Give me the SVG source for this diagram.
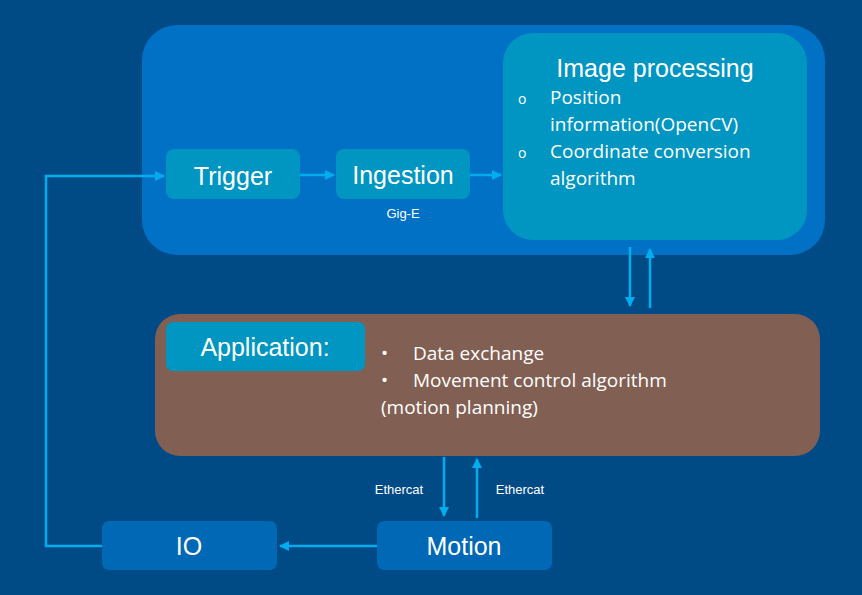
<svg xmlns="http://www.w3.org/2000/svg" width="862" height="595" viewBox="0 0 862 595">
<style>
.a{font-family:"Liberation Sans",Arial,sans-serif;fill:#fff}
.b{font-family:"Open Sans","Noto Sans",sans-serif;fill:#fff}
.c{stroke:#00AEEF;stroke-width:2.5;fill:none}
</style>
<defs><marker id="m" viewBox="0 0 10 10" refX="9" refY="5" markerWidth="4" markerHeight="4" orient="auto"><path d="M0,0L10,5L0,10z" fill="#00AEEF"/></marker></defs>
<rect width="862" height="595" fill="#004A86"/>
<g id="outer"><rect x="142" y="25" width="683" height="230" rx="35" fill="#0071C5"/></g>
<g id="imageproc"><rect x="503" y="33" width="304" height="207" rx="30" fill="#0096C1"/>
<text class="a" x="655" y="77" font-size="25" text-anchor="middle">Image processing</text>
<g class="b" font-size="19"><text x="518" y="104" font-size="14">o</text><text x="550" y="104">Position</text>
<text x="550" y="131">information(OpenCV)</text>
<text x="518" y="158" font-size="14">o</text><text x="550" y="158">Coordinate conversion</text>
<text x="550" y="185">algorithm</text></g></g>
<g id="trigger"><rect x="166" y="149" width="134" height="50" rx="8" fill="#0096C1"/><text class="a" x="233" y="185" font-size="25" text-anchor="middle">Trigger</text></g>
<g id="ingestion"><rect x="336" y="149" width="134" height="50" rx="8" fill="#0096C1"/><text class="a" x="403" y="184" font-size="25" text-anchor="middle">Ingestion</text>
<text class="a" x="403" y="218" font-size="13" text-anchor="middle">Gig-E</text></g>
<g id="application"><rect x="155" y="314" width="665" height="142" rx="25" fill="#825F53"/>
<rect x="166" y="322" width="199" height="49" rx="7" fill="#0096C1"/>
<text class="a" x="265" y="356" font-size="25" text-anchor="middle">Application:</text>
<g class="b" font-size="19"><text x="381" y="360">•</text><text x="413" y="360">Data exchange</text>
<text x="381" y="387">•</text><text x="413" y="387">Movement control algorithm</text>
<text x="381" y="414">(motion planning)</text></g></g>
<g id="io"><rect x="102" y="521" width="175" height="49" rx="7" fill="#0068B5"/><text class="a" x="189" y="555" font-size="25" text-anchor="middle">IO</text></g>
<g id="motion"><rect x="377" y="521" width="175" height="49" rx="7" fill="#0068B5"/><text class="a" x="464" y="555" font-size="25" text-anchor="middle">Motion</text></g>
<g id="connectors">
<path class="c" d="M102,546H46V176H164" marker-end="url(#m)"/>
<path class="c" d="M300,175H334" marker-end="url(#m)"/>
<path class="c" d="M470,175H501" marker-end="url(#m)"/>
<path class="c" d="M630,247V306" marker-end="url(#m)"/>
<path class="c" d="M650,308V249" marker-end="url(#m)"/>
<path class="c" d="M444,457V516" marker-end="url(#m)"/>
<path class="c" d="M477,518V459" marker-end="url(#m)"/>
<path class="c" d="M377,546H280" marker-end="url(#m)"/>
<text class="a" x="399" y="494" font-size="13" text-anchor="middle">Ethercat</text>
<text class="a" x="520" y="494" font-size="13" text-anchor="middle">Ethercat</text>
</g>
</svg>
